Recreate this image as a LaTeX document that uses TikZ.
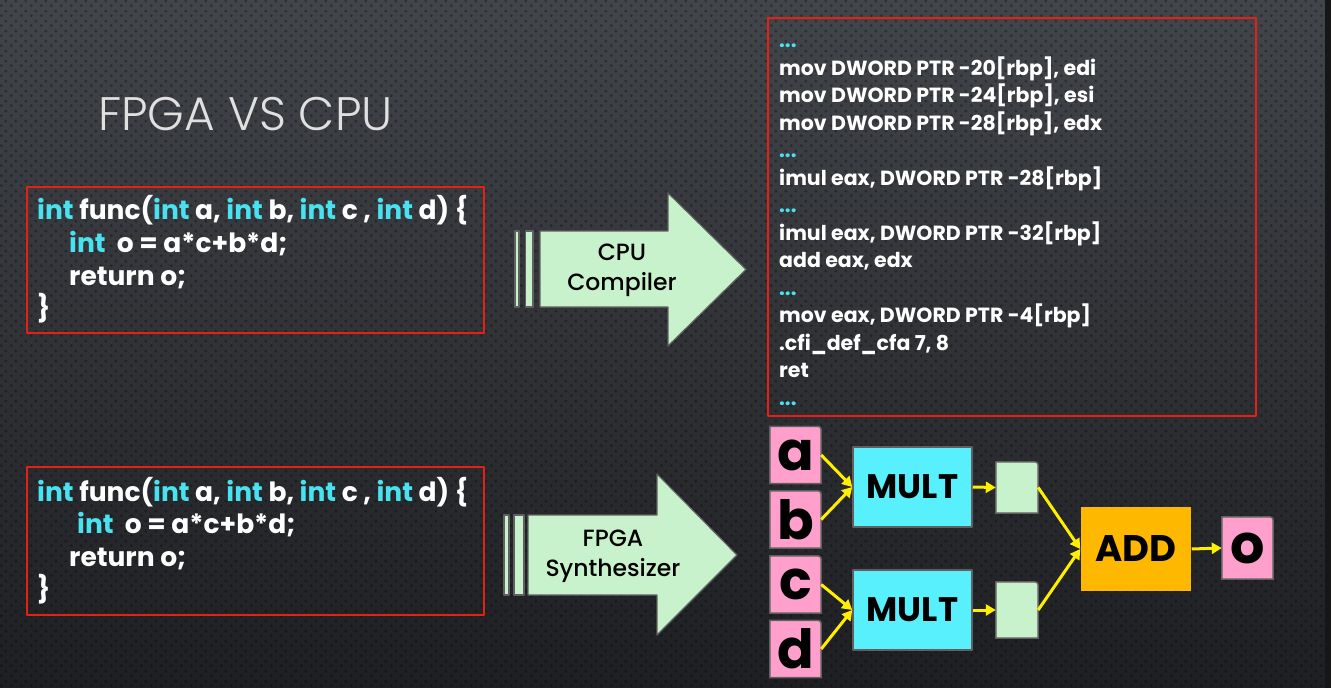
\documentclass[tikz,border=0pt]{standalone}
\usepackage{fontspec}
\setmainfont{Poppins}
\newfontfamily\titlefont{Poppins Light}
\newfontfamily\midfont{Poppins Medium}
\usetikzlibrary{arrows.meta,patterns.meta}
\pgfdeclarelayer{boxes}
\pgfsetlayers{boxes,main}
\tikzdeclarepattern{name=slidedots,type=uncolored,
  bounding box={(0pt,0pt) and (10pt,10pt)},tile size={(10pt,10pt)},
  code={\fill (2.5pt,2.5pt) circle (1.7pt); \fill (7.5pt,7.5pt) circle (1.7pt);}}
\begin{document}
\begin{tikzpicture}[x=1pt,y=-1pt,line join=round,>={Triangle[length=10pt,width=11pt]}]
	\definecolor{slidered}{RGB}{230,32,22}
	\definecolor{keycyan}{RGB}{72,226,240}
	\definecolor{blockgreen}{RGB}{200,242,204}
	\definecolor{edgegray}{RGB}{96,96,96}
	\definecolor{regpink}{RGB}{255,160,204}
	\definecolor{multcyan}{RGB}{88,240,252}
	\definecolor{addorange}{RGB}{255,184,0}
	\definecolor{wireyellow}{RGB}{255,238,0}
	\definecolor{slidetop}{RGB}{66,69,74}
	\definecolor{slidebot}{RGB}{30,31,34}
	\def\ky#1{\textcolor{keycyan}{#1}}
	\tikzset{
		codebox/.style={draw=slidered,line width=2pt},
		codetxt/.style={anchor=base west,inner sep=0pt,text=white,font=\fontsize{26.5}{26.5}\selectfont\bfseries},
		asmtxt/.style={anchor=base west,inner sep=0pt,text=white,font=\fontsize{20.5}{20.5}\selectfont\bfseries},
		blockarrow/.style={fill=blockgreen,draw=edgegray,line width=1.2pt},
		arrowtxt/.style={align=center,inner sep=0pt,text=black,font=\midfont\fontsize{23.5}{30}\selectfont},
		reg/.style={minimum width=51pt,minimum height=57pt,inner sep=0pt,text=black,font=\fontsize{54}{54}\selectfont\bfseries},
		regedge/.style={draw=edgegray,line width=1.5pt},
		unit/.style={draw=edgegray,line width=1.5pt,minimum width=119pt,minimum height=80pt,inner sep=0pt,text=black,font=\fontsize{34}{34}\selectfont\bfseries},
		wire/.style={->,draw=wireyellow,line width=3pt}
	}
	\useasboundingbox (0,0) rectangle (1331,688);
	\begin{pgfonlayer}{boxes}
		\shade[top color=slidetop,bottom color=slidebot] (0,0) rectangle (1331,688);
		\fill[pattern=slidedots,pattern color=black,fill opacity=0.3] (0,0) rectangle (1325,688);
		\fill[slidebot!70!black] (1325,0) rectangle (1331,688);
	\end{pgfonlayer}
	
	\node[anchor=base west,inner sep=0pt,text=black!12,font=\titlefont\fontsize{47}{47}\selectfont] (title) at (98,130) {FPGA VS CPU};
	
	% C source, twice
	\draw[codebox] (27,187) rectangle (484,333);
	\node[codetxt] (srcA1) at (37,219) {\ky{int} func(\ky{int} a, \ky{int} b, \ky{int} c , \ky{int} d) \{};
	\node[codetxt] (srcA2) at (69,252) {\ky{int}\ \ o = a*c+b*d;};
	\node[codetxt] (srcA3) at (69,285) {return o;};
	\node[codetxt] (srcA4) at (37,317) {\}};
	
	\draw[codebox] (27,467) rectangle (484,615);
	\node[codetxt] (srcB1) at (37,501) {\ky{int} func(\ky{int} a, \ky{int} b, \ky{int} c , \ky{int} d) \{};
	\node[codetxt] (srcB2) at (77,533) {\ky{int}\ \ o = a*c+b*d;};
	\node[codetxt] (srcB3) at (69,566) {return o;};
	\node[codetxt] (srcB4) at (37,598) {\}};
	
	% block arrows
	\draw[blockarrow] (515,231) rectangle (519,307) (525.5,231) rectangle (533,307);
	\draw[blockarrow] (540,231) -- (668,231) -- (668,193) -- (746,269.5) -- (668,346) -- (668,307) -- (540,307) -- cycle;
	\node[arrowtxt] (cpucomp) at (622,270) {CPU\\Compiler};
	
	\draw[blockarrow] (504,515) rectangle (509,595) (514,515) rectangle (524,595);
	\draw[blockarrow] (528,515) -- (657,515) -- (657,474) -- (737,555) -- (657,635) -- (657,595) -- (528,595) -- cycle;
	\node[arrowtxt] (fpgasyn) at (613,556) {FPGA\\Synthesizer};
	
	% assembly
	\draw[codebox] (768,18) rectangle (1256,416);
	\foreach \t [count=\i from 0] in {\ky{...},{mov DWORD PTR -20[rbp], edi},{mov DWORD PTR -24[rbp], esi},
		{mov DWORD PTR -28[rbp], edx},\ky{...},{imul eax, DWORD PTR -28[rbp]},\ky{...},
		{imul eax, DWORD PTR -32[rbp]},{add eax, edx},\ky{...},{mov eax, DWORD PTR -4[rbp]},
		{.cfi\_def\_cfa 7, 8},ret,\ky{...}}
		\node[asmtxt] (asm\i) at (779,{47.5+27.5*\i}) {\t};
	
	% datapath
	\node[reg] (ra) at (795.5,455) {a};
	\node[reg] (rb) at (795.5,519.5) {b};
	\node[reg] (rc) at (795.5,584.5) {c};
	\node[reg] (rd) at (795.5,649) {d};
	\node[unit,fill=multcyan] (m1) at (912.5,487) {MULT};
	\node[unit,fill=multcyan] (m2) at (912.5,610) {MULT};
	\node[reg,minimum width=42pt,minimum height=51pt] (g1) at (1017,487.5) {};
	\node[reg,minimum width=42pt,minimum height=56pt] (g2) at (1017,610) {};
	\node[unit,fill=addorange,draw=none,minimum width=110pt,minimum height=84pt,font=\fontsize{37}{37}\selectfont\bfseries] (add) at (1136,549) {ADD};
	\node[reg,minimum height=62pt] (ro) at (1247.5,548) {o};
	\begin{pgfonlayer}{boxes}
		\foreach \n/\c in {ra/regpink,rb/regpink,rc/regpink,rd/regpink,g1/blockgreen,g2/blockgreen,ro/regpink}
		\draw[regedge,fill=\c] (\n.south west) -- (\n.north west) -- ([xshift=-7pt]\n.north east)
		.. controls (\n.north east) .. ([yshift=-7pt]\n.north east) -- (\n.south east) -- cycle;
	\end{pgfonlayer}
	\foreach \s/\e in {ra/m1,rb/m1,rc/m2,rd/m2,m1/g1,m2/g2,g1/add,g2/add,add/ro}
	\draw[wire] (\s.east) -- (\e.west);
\end{tikzpicture}
\end{document}
